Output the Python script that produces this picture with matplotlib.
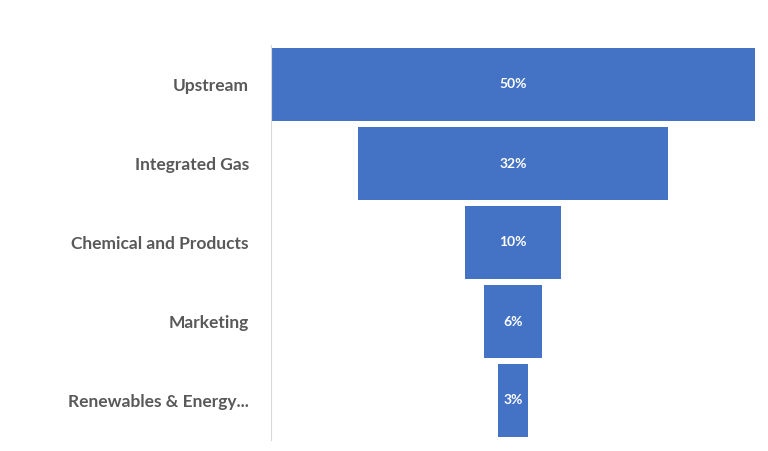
import matplotlib
matplotlib.use("Agg")
import matplotlib.pyplot as plt

categories = ["Upstream", "Integrated Gas", "Chemical and Products", "Marketing", "Renewables & Energy..."]
values = [50, 32, 10, 6, 3]

plt.rcParams['font.family'] = ['Lato', 'DejaVu Sans']
fig = plt.figure(figsize=(7.68, 4.51), dpi=100)
ax = fig.add_axes([271/768, 1-440/451, (755-271)/768, 395/451])
ys = list(range(len(categories)))[::-1]
ax.barh(ys, values, left=[-v/2 for v in values], height=0.92, color="#4472C4")
for y, v in zip(ys, values):
    ax.text(0, y, f"{v}%", color="white", ha="center", va="center", fontsize=10, fontweight="bold")
ax.set_xlim(-25, 25)
ax.set_ylim(-0.5, len(categories)-0.5)
ax.set_yticks(ys)
ax.set_yticklabels(categories, fontsize=12.5, fontweight="bold", color="#595959")
ax.tick_params(axis="y", length=0, pad=16)
ax.set_xticks([])
for s in ["top", "right", "bottom"]:
    ax.spines[s].set_visible(False)
ax.spines["left"].set_color("#D9D9D9")
fig.savefig("out.png", dpi=100)
